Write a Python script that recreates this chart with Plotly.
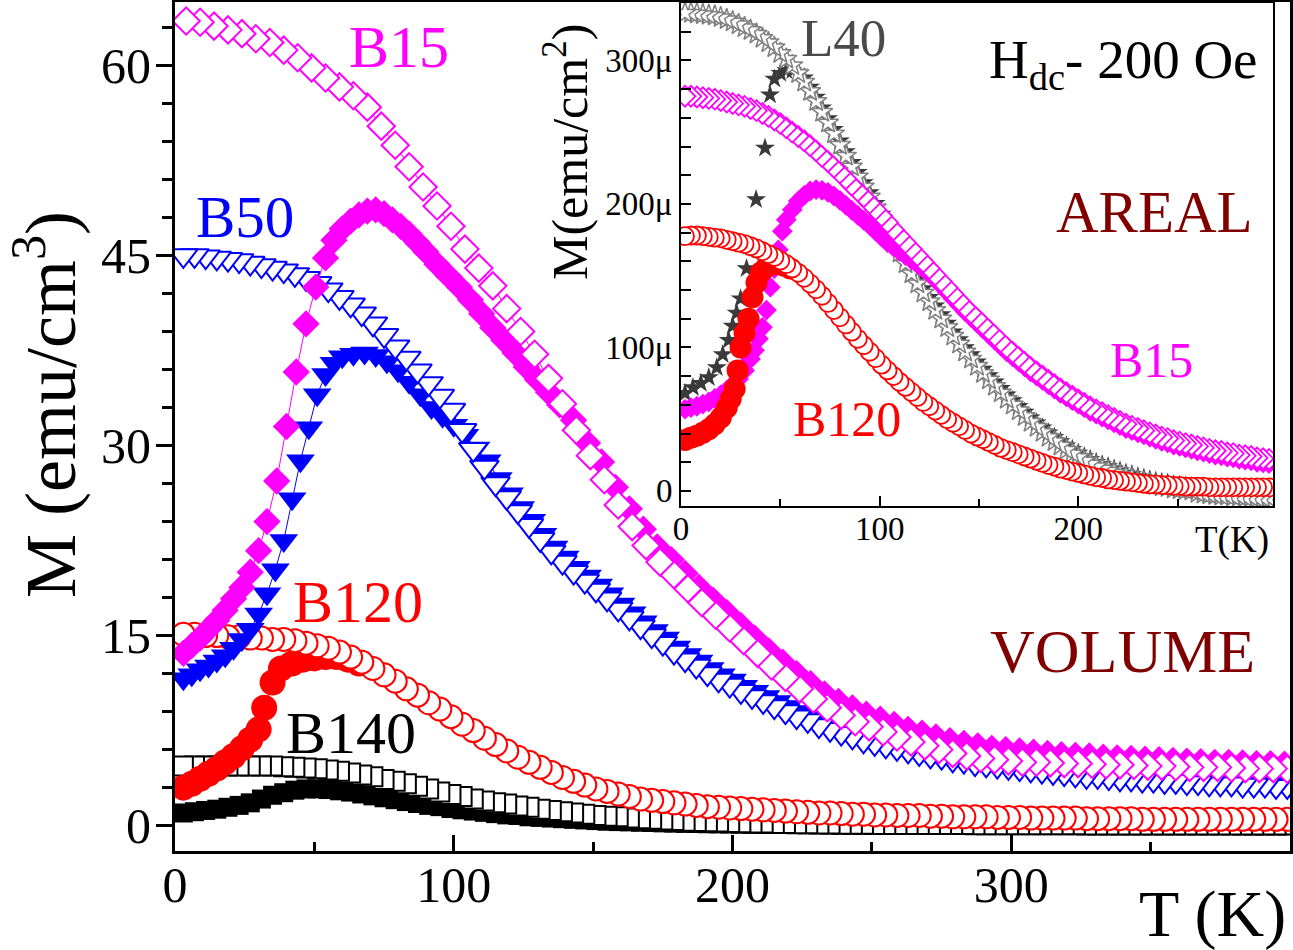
import plotly.graph_objects as go

# ---------------- MAIN PLOT DATA (volume magnetisation, emu/cm^3) ----------------
T4 = [3, 7, 11, 15, 19, 23, 27, 31, 35, 39,
      43, 47, 51, 55, 59, 63, 67, 71, 75, 79,
      83, 87, 91, 95, 99, 103, 107, 111, 115, 119,
      123, 127, 131, 135, 139, 143, 147, 151, 155, 159,
      163, 167, 171, 175, 179, 183, 187, 191, 195, 199,
      203, 207, 211, 215, 219, 223, 227, 231, 235, 239,
      243, 247, 251, 255, 259, 263, 267, 271, 275, 279,
      283, 287, 291, 295, 299, 303, 307, 311, 315, 319,
      323, 327, 331, 335, 339, 343, 347, 351, 355, 359,
      363, 367, 371, 375, 379, 383, 387, 391, 395, 399]

T5 = [4, 9, 14, 19, 24, 29, 34, 39, 44, 49,
      54, 59, 64, 69, 74, 79, 84, 89, 94, 99,
      104, 109, 114, 119, 124, 129, 134, 139, 144, 149,
      154, 159, 164, 169, 174, 179, 184, 189, 194, 199,
      204, 209, 214, 219, 224, 229, 234, 239, 244, 249,
      254, 259, 264, 269, 274, 279, 284, 289, 294, 299,
      304, 309, 314, 319, 324, 329, 334, 339, 344, 349,
      354, 359, 364, 369, 374, 379, 384, 389, 394, 399]

B15_FC = [63.5, 63.4, 63.1, 62.8, 62.5, 62.1, 61.8, 61.2, 60.6, 59.8,
          59.0, 58.3, 57.6, 56.7, 55.2, 53.7, 52.0, 50.4, 48.9, 47.3,
          45.5, 44.0, 42.6, 40.8, 39.0, 37.2, 35.3, 33.3, 31.2, 29.2,
          27.3, 25.3, 23.6, 22.1, 20.8, 19.8, 18.7, 17.6, 16.6, 15.6,
          14.6, 13.6, 12.6, 11.7, 10.8, 10.0, 9.3, 8.7, 8.2, 7.8,
          7.4, 7.0, 6.6, 6.3, 6.0, 5.7, 5.5, 5.3, 5.2, 5.1,
          5.0, 5.0, 4.95, 4.9, 4.9, 4.85, 4.8, 4.8, 4.75, 4.7,
          4.7, 4.65, 4.6, 4.6, 4.6, 4.55, 4.5, 4.5, 4.5, 4.45]

B15_ZFC_T = [3, 6, 9, 12, 15, 18, 21, 24, 27, 30,
             33, 36.5, 40, 43.5, 47, 50.5, 54, 57, 60, 63,
             66, 69, 72, 75, 78, 81, 84, 87, 90, 94,
             98, 102, 106, 110, 114, 118, 122, 126, 130, 134,
             138, 143, 148, 153, 158, 163, 168, 173, 178, 183,
             188, 193, 198, 203, 208, 213, 218, 223, 228, 233,
             238, 243, 248, 253, 258, 263, 268, 273, 278, 283,
             288, 293, 298, 303, 308, 313, 318, 323, 328, 333,
             338, 343, 348, 353, 358, 363, 368, 373, 378, 383,
             388, 393, 398]
B15_ZFC = [13.6, 14.2, 14.8, 15.5, 16.2, 17.0, 17.9, 18.8, 20.0, 21.7,
           24.0, 27.2, 31.5, 35.8, 39.6, 42.5, 44.8, 46.2, 47.1, 47.7,
           48.2, 48.5, 48.6, 48.3, 47.8, 47.3, 46.7, 46.0, 45.3, 44.3,
           43.4, 42.5, 41.5, 40.4, 39.3, 38.3, 37.3, 36.2, 35.2, 34.2,
           33.2, 32.0, 30.2, 28.7, 26.7, 25.0, 23.4, 22.0, 21.0, 19.9,
           18.8, 17.8, 16.8, 15.8, 14.8, 13.8, 12.9, 12.0, 11.2, 10.4,
           9.8, 9.3, 8.8, 8.4, 8.0, 7.6, 7.3, 7.0, 6.7, 6.5,
           6.3, 6.1, 6.0, 5.9, 5.8, 5.7, 5.6, 5.55, 5.5, 5.4,
           5.35, 5.3, 5.25, 5.2, 5.15, 5.1, 5.05, 5.0, 5.0, 4.95,
           4.9, 4.9, 4.85]

B50_FC = [45.0, 45.0, 44.9, 44.8, 44.7, 44.6, 44.4, 44.2, 44.0, 43.8,
          43.5, 43.2, 42.8, 42.3, 41.7, 41.1, 40.4, 39.6, 38.7, 37.8,
          36.9, 35.9, 34.9, 33.9, 32.8, 31.2, 29.7, 28.3, 27.0, 25.9,
          24.8, 23.7, 22.6, 21.6, 20.8, 20.0, 19.3, 18.6, 17.9, 17.1,
          16.4, 15.7, 15.0, 14.4, 13.7, 13.1, 12.6, 12.0, 11.5, 11.1,
          10.6, 10.2, 9.8, 9.4, 9.0, 8.6, 8.3, 7.9, 7.6, 7.3,
          7.0, 6.7, 6.5, 6.3, 6.1, 5.9, 5.7, 5.5, 5.4, 5.2,
          5.1, 4.9, 4.8, 4.7, 4.6, 4.5, 4.4, 4.3, 4.2, 4.1,
          4.0, 3.9, 3.9, 3.8, 3.7, 3.7, 3.6, 3.6, 3.5, 3.5,
          3.4, 3.4, 3.3, 3.3, 3.3, 3.2, 3.2, 3.2, 3.1, 3.1]

B50_ZFC_T = [3, 6, 9, 12, 15, 18, 21, 24, 27, 30,
             33, 36, 39, 42, 45, 48, 51, 54, 57, 60,
             64, 68, 72, 76, 80, 84, 88, 92, 96, 100,
             104, 108, 112,
             116, 120, 124, 128, 132, 136, 140, 144, 148, 152,
             156, 160, 164, 168, 172, 176, 180, 184, 188, 192,
             196, 200, 204, 208, 212, 216, 220, 224, 228, 232,
             236, 240, 244, 248, 252, 256, 260, 264, 268, 272,
             276, 280, 284, 288, 292, 296, 300, 304, 308, 312,
             316, 320, 324, 328, 332, 336, 340, 344, 348, 352,
             356, 360, 364, 368, 372, 376, 380, 384, 388, 392,
             396]
B50_ZFC = [11.6, 11.9, 12.3, 12.6, 13.0, 13.4, 14.0, 14.7, 15.5, 16.7,
           18.3, 20.2, 22.5, 25.8, 28.8, 31.4, 34.0, 35.6, 36.5, 37.0,
           37.2, 37.3, 37.1, 36.6, 35.9, 35.0, 34.0, 33.0, 32.3, 31.6,
           30.8, 29.8, 28.8,
           27.4, 26.2, 25.1, 24.1, 23.0, 22.0, 21.2, 20.4, 19.7, 19.0,
           18.3, 17.5, 16.8, 16.1, 15.4, 14.8, 14.1, 13.5, 13.0, 12.4,
           11.9, 11.5, 11.0, 10.6, 10.2, 9.8, 9.4, 9.0, 8.7, 8.3,
           8.0, 7.7, 7.4, 7.1, 6.9, 6.7, 6.4, 6.2, 6.0, 5.8,
           5.7, 5.5, 5.4, 5.2, 5.1, 5.0, 4.9, 4.8, 4.7, 4.6,
           4.5, 4.4, 4.3, 4.2, 4.2, 4.1, 4.0, 4.0, 3.9, 3.9,
           3.8, 3.8, 3.7, 3.7, 3.6, 3.6, 3.5, 3.5, 3.5, 3.4,
           3.4]

B120_FC = [15.1, 15.1, 15.0, 15.0, 14.9, 14.9, 14.8, 14.8, 14.7, 14.7,
           14.6, 14.4, 14.2, 14.0, 13.7, 13.3, 12.9, 12.4, 11.9, 11.4,
           10.8, 10.3, 9.7, 9.2, 8.6, 8.0, 7.5, 6.9, 6.4, 5.9,
           5.4, 5.0, 4.6, 4.2, 3.8, 3.5, 3.2, 2.9, 2.7, 2.5,
           2.3, 2.1, 2.0, 1.9, 1.8, 1.7, 1.6, 1.5, 1.45, 1.4,
           1.35, 1.3, 1.25, 1.2, 1.15, 1.1, 1.05, 1.0, 1.0, 0.95,
           0.9, 0.9, 0.85, 0.85, 0.8, 0.8, 0.8, 0.75, 0.75, 0.7,
           0.7, 0.7, 0.7, 0.65, 0.65, 0.65, 0.6, 0.6, 0.6, 0.6,
           0.6, 0.55, 0.55, 0.55, 0.55, 0.55, 0.5, 0.5, 0.5, 0.5,
           0.5, 0.5, 0.5, 0.5, 0.5, 0.5, 0.5, 0.5, 0.5, 0.5]

B120_ZFC_T = [3, 6, 9, 12, 15, 18, 21, 24, 27, 30,
              32, 35, 38, 42, 46, 50, 54, 58, 62, 66]
B120_ZFC = [3.0, 3.3, 3.7, 4.1, 4.5, 5.0, 5.5, 6.1, 6.8, 7.6,
            9.3, 11.3, 12.4, 12.8, 13.1, 13.2, 13.3, 13.3, 13.1, 12.8]

B140_FC = [4.7, 4.7, 4.7, 4.7, 4.7, 4.7, 4.7, 4.7, 4.7, 4.65,
           4.6, 4.55, 4.5, 4.4, 4.3, 4.15, 4.0, 3.85, 3.65, 3.5,
           3.3, 3.1, 2.9, 2.65, 2.45, 2.3, 2.1, 1.95, 1.8, 1.7,
           1.55, 1.45, 1.3, 1.2, 1.1, 1.0, 0.9, 0.8, 0.75, 0.7,
           0.6, 0.55, 0.5, 0.45, 0.4, 0.35, 0.33, 0.3, 0.28, 0.25,
           0.23, 0.2, 0.2, 0.18, 0.17, 0.15, 0.15, 0.14, 0.13, 0.12,
           0.12, 0.11, 0.1, 0.1, 0.1, 0.1, 0.1, 0.09, 0.09, 0.09,
           0.09, 0.08, 0.08, 0.08, 0.08, 0.08, 0.07, 0.07, 0.07, 0.07,
           0.07, 0.06, 0.06, 0.06, 0.06, 0.06, 0.06, 0.05, 0.05, 0.05,
           0.05, 0.05, 0.05, 0.05, 0.05, 0.05, 0.05, 0.05, 0.05, 0.05]

B140_ZFC = [1.0, 1.1, 1.2, 1.3, 1.45, 1.6, 1.8, 2.1, 2.4, 2.6,
            2.8, 2.9, 2.9, 2.85, 2.75, 2.65, 2.5, 2.35, 2.2, 2.05,
            1.9, 1.75, 1.6, 1.5, 1.35, 1.25, 1.15, 1.05, 0.95, 0.85,
            0.8, 0.7, 0.65, 0.6, 0.55, 0.5, 0.45, 0.4, 0.35, 0.32,
            0.3, 0.27, 0.25, 0.22, 0.2, 0.18, 0.17, 0.15, 0.14, 0.13,
            0.12, 0.11, 0.1, 0.1, 0.09, 0.09, 0.08, 0.08, 0.07, 0.07,
            0.06, 0.06, 0.06, 0.05, 0.05, 0.05, 0.05, 0.04, 0.04, 0.04,
            0.04, 0.04, 0.03, 0.03, 0.03, 0.03, 0.03, 0.03, 0.02, 0.02,
            0.02, 0.02, 0.02, 0.02, 0.02, 0.01, 0.01, 0.01, 0.01, 0.01,
            0.01, 0.01, 0.01, 0.01, 0.01, 0.0, 0.0, 0.0, 0.0, 0.0]

# ---------------- INSET DATA (areal magnetisation, micro-emu/cm^2) ----------------
T3 = [2, 5, 8, 11, 14, 17, 20, 23, 26, 29,
      32, 35, 38, 41, 44, 47, 50, 53, 56, 59,
      62, 65, 68, 71, 74, 77, 80, 83, 86, 89,
      92, 95, 98, 101, 104, 107, 110, 113, 116, 119,
      122, 125, 128, 131, 134, 137, 140, 143, 146, 149,
      152, 155, 158, 161, 164, 167, 170, 173, 176, 179,
      182, 185, 188, 191, 194, 197, 200, 203, 206, 209,
      212, 215, 218, 221, 224, 227, 230, 233, 236, 239,
      242, 245, 248, 251, 254, 257, 260, 263, 266, 269,
      272, 275, 278, 281, 284, 287, 290, 293, 296]

L40_FC = [333, 333, 332.5, 332, 331.5, 331, 330, 328.5, 327, 325,
          323, 321, 318.5, 315.5, 312.5, 309, 305, 301, 296.5, 291,
          285, 278.5, 271.5, 264, 256.5, 249, 241, 233.5, 226, 219,
          212, 205, 197.5, 190, 182, 174, 166, 158.5, 151.5, 144.5,
          138, 132, 126, 120, 114, 108, 102.5, 97, 92, 87,
          82, 77.5, 73, 68.5, 64, 60, 56, 52, 48, 44.5,
          41, 37.5, 34.5, 31.5, 28.5, 26, 23.5, 21, 19, 17,
          15.5, 14, 12.5, 11, 9.5, 8.5, 7, 6, 5, 4,
          3, 2.5, 1.5, 1, 0.5, 0, -1.5, -2, -2.5, -3,
          -3.5, -3.5, -4, -4, -4.5, -4.5, -5, -5, -5]

L40_ZFC_T = [2, 6, 10, 14, 18, 21, 24, 26, 28, 30,
             33, 37.8, 42.3, 44.8, 47, 50, 53, 56, 59,
             62, 65, 68, 71, 74, 77, 80, 83, 86, 89,
             92, 95, 98, 101, 104, 107, 110, 113, 116, 119,
             122, 125, 128, 131, 134, 137, 140, 143, 146, 149,
             152, 155, 158, 161, 164, 167, 170, 173, 176, 179,
             182, 185, 188, 191, 194, 197, 200, 203, 206, 209,
             212, 215, 218, 221, 224, 227, 230, 233, 236, 239,
             242, 245, 248, 251, 254, 257, 260, 263, 266, 269,
             272, 275, 278, 281, 284, 287, 290, 293, 296]
L40_ZFC = [68, 72, 75, 79, 86, 95, 105, 115, 124, 134,
           155, 203, 239, 276, 287, 291, 293, 293, 292,
           288, 281.5, 274.5, 267, 259.5, 252, 244, 236.5, 229, 222,
           215, 208, 200.5, 193, 185, 177, 169, 161.5, 154.5, 147.5,
           141, 135, 129, 123, 117, 111, 105.5, 100, 95, 90,
           85, 80.5, 76, 71.5, 67, 63, 59, 55, 51, 47.5,
           44, 40.5, 37.5, 34.5, 31.5, 29, 26.5, 24, 22, 20,
           18.5, 17, 15.5, 14, 12.5, 11.5, 10, 9, 8, 7,
           6, 5.5, 4.5, 4, 3.5, 3, 1.5, 1, 0.5, 0,
           -0.5, -0.5, -1, -1, -1.5, -1.5, -2, -2, -2]

IB15_FC = [275, 275, 274.5, 274, 273.5, 273, 272, 271, 270, 269,
           268, 266.5, 265, 263, 261, 258.5, 256, 253, 250, 247,
           244, 240.5, 237, 233, 229.5, 225.5, 221.5, 217.5, 213, 209,
           205, 200.5, 196, 191.5, 187, 182, 177.5, 173, 168.5, 164,
           159.5, 155, 150.5, 146, 141.5, 137, 132.5, 128, 124, 120,
           116, 112, 108, 104, 100, 96.5, 93, 89.5, 86, 83,
           80, 77, 74, 71, 68.5, 66, 63.5, 61, 58.5, 56.5,
           54.5, 52.5, 50.5, 48.5, 46.5, 45, 43.5, 42, 40.5, 39,
           37.5, 36.5, 35, 34, 33, 32, 31, 30, 29, 28,
           27.5, 26.5, 26, 25, 24.5, 24, 23, 22.5, 22]

IB15_ZFC_T = [2, 5, 8, 11, 14, 17, 20, 23, 26, 29,
              32, 35, 37, 39, 41, 43, 45, 47, 49, 51,
              53, 56, 59, 62, 65, 68, 71, 74, 77, 80,
              83, 86, 89, 92, 95, 98, 101,
              104, 107, 110, 113, 116, 119, 122, 125, 128, 131,
              134, 137, 140, 143, 146, 149, 152, 155, 158, 161,
              164, 167, 170, 173, 176, 179, 182, 185, 188, 191,
              194, 197, 200, 203, 206, 209, 212, 215, 218, 221,
              224, 227, 230, 233, 236, 239, 242, 245, 248, 251,
              254, 257, 260, 263, 266, 269, 272, 275, 278, 281,
              284, 287, 290, 293, 296]
IB15_ZFC = [57, 58, 59, 60.5, 62, 64.5, 67, 70, 74, 78,
            84, 92, 98, 106, 114, 126, 142, 155, 168, 181,
            189, 196, 202, 206, 209, 210, 209.5, 208, 205.5, 202.5,
            199, 195.5, 192, 188.5, 185, 181, 177,
            173, 170, 167, 164, 161, 158, 155, 151.5, 147.5, 143,
            138.5, 134, 129.5, 125, 121, 117, 113, 109, 105, 101,
            97, 93.5, 90, 86.5, 83, 80, 77, 74, 71, 68,
            65.5, 63, 60.5, 58, 55.5, 53.5, 51.5, 49.5, 47.5, 45.5,
            43.5, 42, 40.5, 39, 37.5, 36, 34.5, 33.5, 32, 31,
            30, 29, 28, 27, 26, 25, 24.5, 23.5, 23, 22,
            21.5, 21, 20, 19.5, 19]

IB120_FC = [177.5, 178, 178, 177.5, 177, 176.5, 176, 175, 174, 173,
            172, 170.5, 169, 167, 165, 163, 160.5, 158, 155, 152,
            148.5, 144.5, 140.5, 136, 131, 126, 121, 116, 111, 106,
            101.5, 97, 92.5, 88, 84, 80, 76, 72.5, 69, 65.5,
            62, 59, 56, 53, 50, 47.5, 45, 42.5, 40, 38,
            36, 34, 32, 30, 28.5, 27, 25.5, 24, 22.5, 21,
            19.5, 18, 17, 15.5, 14.5, 13.5, 12.5, 11.5, 10.5, 9.5,
            9, 8, 7.5, 7, 6.5, 6, 5.5, 5, 4.5, 4.5,
            4, 4, 3.5, 3.5, 3, 3, 3, 3, 2.5, 2.5,
            2.5, 2.5, 2.5, 2.5, 2.5, 2.5, 2.5, 2.5, 2.5]

IB120_ZFC_T = [2, 5, 8, 11, 14, 17, 20, 23, 25, 27,
               28.5, 30, 32, 34, 36, 38, 40, 43, 46, 49, 52, 55]
IB120_ZFC = [35.5, 37, 38.5, 40.5, 43, 46.5, 51, 58, 64, 71,
             84, 100, 110, 120, 135, 145, 152, 156, 158, 158, 157, 155]

# ---------------- STYLE ----------------
FONT = "Liberation Serif"
MAG, BLU, RED, BLK = "#FF00FF", "#0000FF", "#FF0000", "#000000"
GRY, DGRY = "#808080", "#3a3a3a"
W, H = 1293, 950

fig = go.Figure()


def add(x, y, symbol, color, size, filled, xa="x", ya="y", lw=2.0,
        reverse=False, line=True):
    if reverse:
        x, y = list(x)[::-1], list(y)[::-1]
    if filled:
        mk = dict(symbol=symbol, size=size, color=color, line=dict(width=0))
    else:
        mk = dict(symbol=symbol, size=size, color="white", line=dict(color=color, width=lw))
    fig.add_trace(go.Scatter(x=x, y=y, mode="lines+markers" if line else "markers",
                             xaxis=xa, yaxis=ya,
                             line=dict(color=color, width=1), marker=mk,
                             showlegend=False, hoverinfo="skip"))


# main plot (bottom -> top)
add(T4, B140_ZFC, "square", BLK, 19, True)
add(T4, B140_FC, "square", BLK, 19, False, reverse=True)
add(B120_ZFC_T, B120_ZFC, "circle", RED, 26, True)
add(T4, B120_FC, "circle", RED, 23, False, reverse=True)
add(B50_ZFC_T, B50_ZFC, "triangle-down", BLU, 25, True)
add(T4, B50_FC, "triangle-down", BLU, 25, False, reverse=True)
add(B15_ZFC_T, B15_ZFC, "diamond", MAG, 21, True)
add(T5, B15_FC, "diamond", MAG, 21, False, reverse=True)

# inset
add(L40_ZFC_T, L40_ZFC, "star", DGRY, 15, True, "x2", "y2", line=False)
add(T3, L40_FC, "star", GRY, 16, False, "x2", "y2", lw=1.5, reverse=True, line=False)
add(IB15_ZFC_T, IB15_ZFC, "diamond", MAG, 16, True, "x2", "y2", line=False)
add(T3, IB15_FC, "diamond", MAG, 16, False, "x2", "y2", lw=1.8, reverse=True, line=False)
add(IB120_ZFC_T, IB120_ZFC, "circle", RED, 22, True, "x2", "y2", line=False)
add(T3, IB120_FC, "circle", RED, 18, False, "x2", "y2", lw=1.8, reverse=True, line=False)

# ---------------- AXES ----------------
fig.update_layout(
    width=W, height=H, margin=dict(l=0, r=0, t=0, b=0, pad=0, autoexpand=False),
    paper_bgcolor="white", plot_bgcolor="white", showlegend=False,
    font=dict(family=FONT, color="black"),
    xaxis=dict(domain=[175 / W, 1290 / W], range=[0, 400], anchor="y", automargin=False,
               tick0=0, dtick=100, ticks="inside", ticklen=16, tickwidth=3, tickcolor="black",
               showline=True, linewidth=3, linecolor="black", mirror=True,
               showgrid=False, zeroline=False, tickfont=dict(size=50, family=FONT),
               ticklabelstandoff=-12,
               minor=dict(dtick=50, tick0=0, ticks="inside", ticklen=9, tickwidth=3,
                          tickcolor="black", showgrid=False)),
    yaxis=dict(domain=[(H - 851) / H, (H - 2) / H], range=[-2, 65], anchor="x", automargin=False,
               tick0=0, dtick=15, ticks="outside", ticklen=16, tickwidth=3, tickcolor="black",
               showline=True, linewidth=3, linecolor="black", mirror=True,
               showgrid=False, zeroline=False, tickfont=dict(size=50, family=FONT),
               ticklabelstandoff=-5,
               minor=dict(dtick=3, tick0=0, ticks="outside", ticklen=10, tickwidth=3,
                          tickcolor="black", showgrid=False)),
    xaxis2=dict(domain=[681 / W, 1273 / W], range=[0, 298], anchor="y2", automargin=False,
                tick0=0, dtick=100, ticks="inside", ticklen=10, tickwidth=2, tickcolor="black",
                showline=True, linewidth=2, linecolor="black", mirror=True,
                showgrid=False, zeroline=False, tickfont=dict(size=33, family=FONT),
                ticklabelstandoff=-8,
                minor=dict(dtick=50, tick0=0, ticks="inside", ticklen=7, tickwidth=2,
                           tickcolor="black", showgrid=False)),
    yaxis2=dict(domain=[(H - 506) / H, (H - 3) / H], range=[-10.5, 340], anchor="x2",
                automargin=False,
                tickmode="array", tickvals=[0, 100, 200, 300],
                ticktext=["0", "100\u03bc", "200\u03bc", "300\u03bc"],
                ticks="inside", ticklen=10, tickwidth=2, tickcolor="black",
                showline=True, linewidth=2, linecolor="black", mirror=True,
                showgrid=False, zeroline=False, tickfont=dict(size=33, family=FONT),
                minor=dict(dtick=20, tick0=0, ticks="inside", ticklen=10, tickwidth=2,
                           tickcolor="black", showgrid=False)),
)


def ann(text, px, py, size, color="black", angle=0):
    fig.add_annotation(text=text, x=px / W, y=1 - py / H, xref="paper", yref="paper",
                       xanchor="center", yanchor="middle", showarrow=False,
                       textangle=angle, font=dict(family=FONT, size=size, color=color))


ann("B15", 399, 47, 60, MAG)
ann("B50", 245, 217, 59, BLU)
ann("B120", 358, 602, 60, RED)
ann("B140", 351, 733, 60, BLK)
ann("VOLUME", 1122, 651, 62, "#800000")
ann("T (K)", 1212, 914, 66)
ann("M (emu/cm<sup>3</sup>)", 45, 405, 72, angle=-90)

ann("L40", 843, 38, 53, "#4a4a4a")
ann("H<sub>dc</sub>- 200 Oe", 1123, 64, 55)
ann("AREAL", 1154, 212, 59, "#800000")
ann("B15", 1151, 360, 50, MAG)
ann("B120", 847, 419, 50, RED)
ann("T(K)", 1232, 540, 37)
ann("M(emu/cm<sup>2</sup>)", 566, 152, 50, angle=-90)

fig.write_html("out.html")
